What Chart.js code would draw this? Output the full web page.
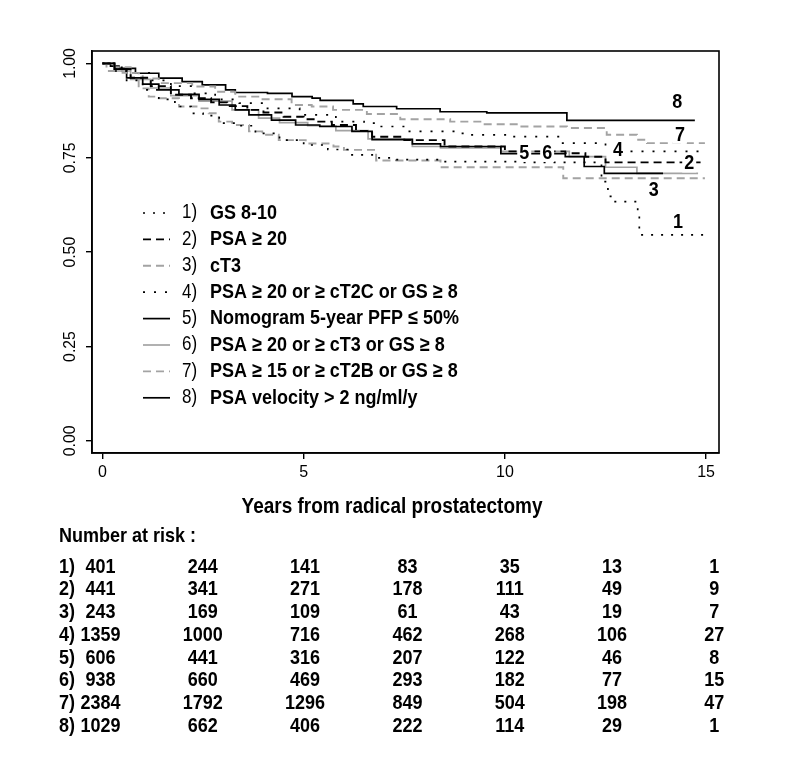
<!DOCTYPE html>
<html>
<head>
<meta charset="utf-8">
<script src="https://cdn.jsdelivr.net/npm/chart.js@4.4.1/dist/chart.umd.min.js"></script>
<style>
  html, body { margin: 0; padding: 0; background: #fff; }
  #wrap { width: 797px; height: 775px; }
</style>
</head>
<body>
<div id="wrap"><canvas id="km" width="797" height="775"></canvas></div>
<script>
// Kaplan-Meier step points (years, survival)
const t1 = [0, 0.3, 0.6, 1.0, 1.4, 1.8, 2.2, 2.5, 2.9, 3.3, 3.8, 4.4, 5.0, 5.6, 6.2, 6.8, 7.3, 8.4, 10.4, 12.4, 12.56, 12.7, 13.3, 13.34, 14.97];
const s1 = [1, 0.98, 0.955, 0.93, 0.905, 0.886, 0.868, 0.862, 0.842, 0.835, 0.815, 0.797, 0.784, 0.772, 0.758, 0.75, 0.745, 0.74, 0.738, 0.687, 0.648, 0.634, 0.608, 0.546, 0.546];

const t2 = [0, 0.3, 0.7, 1.2, 1.7, 2.2, 2.7, 3.1, 3.6, 4.0, 4.5, 5.0, 5.3, 5.7, 6.3, 6.7, 7.5, 8.5, 10.0, 11.5, 12.0, 12.5, 14.9];
const s2 = [1, 0.985, 0.962, 0.94, 0.917, 0.908, 0.897, 0.887, 0.877, 0.87, 0.859, 0.852, 0.846, 0.837, 0.821, 0.806, 0.797, 0.78, 0.767, 0.762, 0.753, 0.738, 0.738];

const t3 = [0, 0.1, 0.5, 0.9, 1.15, 1.4, 1.9, 2.4, 2.64, 2.89, 3.22, 3.64, 3.97, 4.38, 5.05, 5.74, 6.0, 6.8, 8.4, 11.45, 14.97];
const s3 = [1, 0.98, 0.975, 0.934, 0.912, 0.908, 0.886, 0.881, 0.868, 0.846, 0.837, 0.82, 0.811, 0.797, 0.788, 0.78, 0.771, 0.743, 0.725, 0.696, 0.696];

const t4 = [0, 0.3, 0.7, 1.2, 1.7, 2.2, 2.8, 3.4, 4.1, 4.9, 5.8, 6.5, 6.85, 7.6, 8.9, 9.1, 10.2, 11.4, 12.5, 12.9, 14.85];
const s4 = [1, 0.99, 0.975, 0.955, 0.94, 0.921, 0.905, 0.895, 0.881, 0.864, 0.846, 0.842, 0.833, 0.82, 0.815, 0.811, 0.806, 0.789, 0.774, 0.767, 0.767];

const t5 = [0, 0.3, 0.6, 1.0, 1.4, 1.9, 2.4, 2.9, 3.3, 3.64, 4.2, 4.8, 5.4, 6.2, 6.7, 7.7, 8.4, 9.9, 11.5, 11.97, 12.47, 13.93];
const s5 = [1, 0.985, 0.962, 0.945, 0.93, 0.918, 0.905, 0.89, 0.877, 0.864, 0.85, 0.837, 0.833, 0.82, 0.798, 0.787, 0.78, 0.761, 0.753, 0.727, 0.709, 0.709];

const t6 = [0, 0.3, 0.7, 1.2, 1.7, 2.4, 3.22, 3.88, 4.4, 5.1, 5.8, 6.6, 7.7, 8.4, 9.9, 11.6, 12.5, 13.28, 14.8];
const s6 = [1, 0.98, 0.958, 0.935, 0.915, 0.9, 0.877, 0.855, 0.843, 0.835, 0.822, 0.8, 0.78, 0.776, 0.767, 0.753, 0.725, 0.709, 0.709];

const t7 = [0, 0.3, 0.7, 1.0, 1.4, 2.23, 2.8, 3.3, 3.9, 4.7, 5.2, 5.73, 6.57, 7.4, 8.64, 9.46, 10.37, 11.54, 12.53, 13.28, 13.53, 14.97];
const s7 = [1, 0.99, 0.975, 0.96, 0.948, 0.939, 0.925, 0.912, 0.905, 0.89, 0.886, 0.877, 0.866, 0.852, 0.846, 0.839, 0.833, 0.829, 0.811, 0.798, 0.789, 0.789];

const t8 = [0, 0.2, 0.41, 0.82, 1.4, 1.98, 2.48, 3.06, 3.3, 4.1, 4.71, 5.21, 5.41, 6.23, 6.48, 7.31, 8.39, 9.55, 11.54, 14.72];
const s8 = [1, 0.993, 0.987, 0.974, 0.961, 0.952, 0.943, 0.93, 0.923, 0.921, 0.912, 0.908, 0.902, 0.893, 0.886, 0.88, 0.872, 0.869, 0.849, 0.849];

const groupNames = [
  'GS 8-10',
  'PSA \u2265 20',
  'cT3',
  'PSA \u2265 20 or \u2265 cT2C or GS \u2265 8',
  'Nomogram 5-year PFP \u2264 50%',
  'PSA \u2265 20 or \u2265 cT3 or GS \u2265 8',
  'PSA \u2265 15 or \u2265 cT2B or GS \u2265 8',
  'PSA velocity > 2 ng/ml/y'
];

const xTicks = [0, 5, 10, 15];
const yTicks = [0, 0.25, 0.5, 0.75, 1];
const yTickLabels = ['0.00', '0.25', '0.50', '0.75', '1.00'];

// curve labels placed at (year, survival)
const curveLabels = ['8', '7', '4', '2', '3', '1', '5', '6'];
const curveLabelX = [14.28, 14.35, 12.81, 14.58, 13.7, 14.3, 10.48, 11.05];
const curveLabelY = [0.896, 0.811, 0.771, 0.735, 0.665, 0.578, 0.763, 0.763];

const riskYears = [0, 2.5, 5, 7.5, 10, 12.5, 15];
const risk1 = [401, 244, 141, 83, 35, 13, 1];
const risk2 = [441, 341, 271, 178, 111, 49, 9];
const risk3 = [243, 169, 109, 61, 43, 19, 7];
const risk4 = [1359, 1000, 716, 462, 268, 106, 27];
const risk5 = [606, 441, 316, 207, 122, 46, 8];
const risk6 = [938, 660, 469, 293, 182, 77, 15];
const risk7 = [2384, 1792, 1296, 849, 504, 198, 47];
const risk8 = [1029, 662, 406, 222, 114, 29, 1];

const times = [t1, t2, t3, t4, t5, t6, t7, t8];
const surv = [s1, s2, s3, s4, s5, s6, s7, s8];
const risks = [risk1, risk2, risk3, risk4, risk5, risk6, risk7, risk8];

const BLACK = '#000000';
const GREY = '#a3a3a3';
const looks = [
  { color: BLACK, dash: [2, 8], width: 1.7 },
  { color: BLACK, dash: [8, 5], width: 1.9 },
  { color: GREY, dash: [8, 5], width: 1.9 },
  { color: BLACK, dash: [2, 9], width: 1.7 },
  { color: BLACK, dash: [], width: 1.7 },
  { color: GREY, dash: [], width: 1.7 },
  { color: GREY, dash: [8, 5], width: 1.9 },
  { color: BLACK, dash: [], width: 1.7 }
];

const datasets = times.map((t, i) => ({
  label: groupNames[i],
  data: t.map((x, j) => ({ x, y: surv[i][j] })),
  stepped: true,
  borderColor: looks[i].color,
  borderDash: looks[i].dash,
  borderWidth: looks[i].width,
  pointRadius: 0,
  fill: false,
  tension: 0
}));

const FONT = '"Liberation Sans", Arial, sans-serif';
const STRETCH = 1.15; // the reference text is a bit taller than Arial

function tallText(ctx, s, x, y) {
  ctx.save();
  ctx.translate(x, y);
  ctx.scale(1, STRETCH);
  ctx.fillText(s, 0, 0);
  ctx.restore();
}

const decorations = {
  id: 'decorations',
  afterDraw(chart) {
    const ctx = chart.ctx;
    const area = chart.chartArea;
    const xs = chart.scales.x;
    const ys = chart.scales.y;
    ctx.save();

    // box
    ctx.strokeStyle = BLACK;
    ctx.lineWidth = 1.6;
    ctx.setLineDash([]);
    ctx.strokeRect(area.left, area.top, area.right - area.left, area.bottom - area.top);

    // rotated y tick labels
    ctx.fillStyle = BLACK;
    ctx.font = '15px ' + FONT;
    ctx.textAlign = 'center';
    ctx.textBaseline = 'middle';
    yTicks.forEach((v, i) => {
      ctx.save();
      ctx.translate(70, ys.getPixelForValue(v));
      ctx.rotate(-Math.PI / 2);
      ctx.scale(1.05, 1.12);
      ctx.fillText(yTickLabels[i], 0, 0);
      ctx.restore();
    });

    // x title
    ctx.font = 'bold 19px ' + FONT;
    tallText(ctx, 'Years from radical prostatectomy', 392, 507);

    // curve labels
    ctx.font = 'bold 18px ' + FONT;
    curveLabels.forEach((lab, i) => {
      const px = xs.getPixelForValue(curveLabelX[i]);
      const py = ys.getPixelForValue(curveLabelY[i]);
      const w = ctx.measureText(lab).width;
      ctx.fillStyle = '#fff';
      ctx.fillRect(px - w / 2 - 2, py - 9, w + 4, 18);
      ctx.fillStyle = BLACK;
      tallText(ctx, lab, px, py);
    });

    // legend inside the plot
    const legTop = 213;
    const legStep = 26.4;
    groupNames.forEach((name, i) => {
      const y = legTop + i * legStep;
      ctx.strokeStyle = looks[i].color;
      ctx.lineWidth = looks[i].width;
      ctx.setLineDash(looks[i].dash);
      ctx.beginPath();
      ctx.moveTo(143, y);
      ctx.lineTo(170, y);
      ctx.stroke();
      ctx.setLineDash([]);
      ctx.fillStyle = BLACK;
      ctx.textAlign = 'left';
      ctx.font = '17px ' + FONT;
      tallText(ctx, (i + 1) + ')', 182, y);
      ctx.font = 'bold 18px ' + FONT;
      tallText(ctx, name, 210, y);
    });

    // number at risk table
    ctx.font = 'bold 18px ' + FONT;
    ctx.textAlign = 'left';
    tallText(ctx, 'Number at risk :', 59, 536);
    risks.forEach((row, r) => {
      const y = 567 + r * 22.7;
      ctx.textAlign = 'left';
      tallText(ctx, (r + 1) + ')', 59, y);
      ctx.textAlign = 'center';
      row.forEach((n, c) => {
        const px = xs.getPixelForValue(riskYears[c]) - 2 + 1.7 * c;
        tallText(ctx, String(n), px, y);
      });
    });

    ctx.restore();
  }
};

new Chart(document.getElementById('km'), {
  type: 'line',
  data: { datasets },
  options: {
    responsive: false,
    animation: false,
    layout: { padding: { top: 51, right: 78, left: 0, bottom: 0 } },
    plugins: {
      legend: { display: false },
      tooltip: { enabled: false }
    },
    scales: {
      x: {
        type: 'linear',
        min: -0.26,
        max: 15.32,
        afterBuildTicks(scale) {
          scale.ticks = xTicks.map(v => ({ value: v }));
        },
        afterFit(scale) {
          scale.height = 775 - 453;
        },
        grid: {
          drawOnChartArea: false,
          drawTicks: true,
          tickLength: 6,
          color: BLACK,
          lineWidth: 1.4
        },
        border: { display: true, color: BLACK, width: 1.6 },
        ticks: {
          color: BLACK,
          font: { family: FONT, size: 16 },
          padding: 4,
          maxRotation: 0,
          callback: v => String(v)
        }
      },
      y: {
        type: 'linear',
        min: -0.032,
        max: 1.033,
        afterBuildTicks(scale) {
          scale.ticks = yTicks.map(v => ({ value: v }));
        },
        afterFit(scale) {
          scale.width = 92;
        },
        grid: {
          drawOnChartArea: false,
          drawTicks: true,
          tickLength: 6,
          color: BLACK,
          lineWidth: 1.4
        },
        border: { display: true, color: BLACK, width: 1.6 },
        ticks: { display: false }
      }
    }
  },
  plugins: [decorations]
});
</script>
</body>
</html>
